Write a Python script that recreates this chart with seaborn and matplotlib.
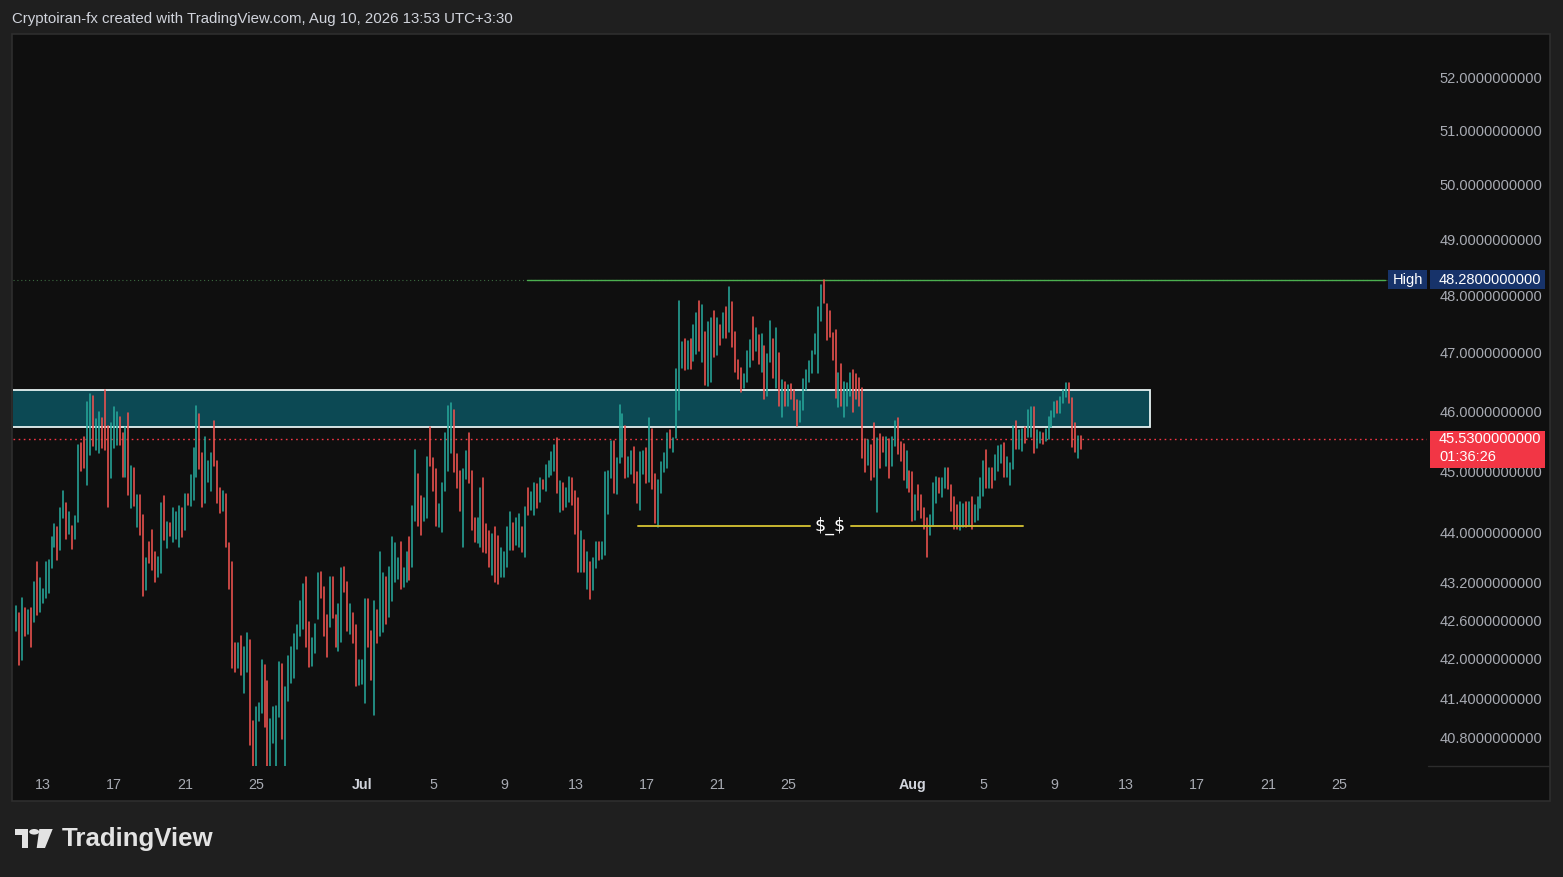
import numpy as np
import pandas as pd
import matplotlib
matplotlib.use("Agg")
import matplotlib.pyplot as plt
import matplotlib.dates as mdates
from matplotlib.patches import Rectangle, Polygon, Circle
from matplotlib.lines import Line2D
from matplotlib.ticker import FixedLocator, FuncFormatter, NullLocator
import seaborn as sns

# ---------------- data (4h OHLC bars, local time UTC+3:30) ----------------
first_bar = "2026-06-11 11:30"

highs = [
    42.82, 42.71, 42.95, 42.79, 42.76, 42.79, 43.20, 43.52, 43.26, 43.09,
    43.52, 43.55, 43.92, 44.13, 44.08, 44.39, 44.68, 44.47, 44.33, 44.11,
    44.26, 45.43, 45.46, 45.56, 46.15, 46.29, 46.26, 45.87, 45.98, 45.88,
    46.36, 45.76, 45.80, 46.07, 45.98, 45.90, 45.63, 45.73, 45.97, 45.08,
    45.05, 44.60, 44.60, 44.28, 43.58, 43.85, 44.03, 43.68, 43.60, 44.47,
    44.59, 44.16, 44.15, 44.39, 44.33, 44.42, 44.39, 44.62, 44.62, 44.93, 45.38,
    46.09, 45.95, 45.30, 45.56, 45.16, 45.30, 45.83, 45.16, 44.73, 44.68,
    44.62, 43.82, 43.52, 42.24, 42.24, 42.35, 42.19, 42.40, 42.29, 41.06,
    41.26, 41.32, 41.99, 41.90, 41.66, 41.09, 41.26, 41.28, 41.95, 41.92,
    41.57, 42.04, 42.18, 42.38, 42.52, 42.90, 43.18, 43.29, 42.57, 42.32,
    42.54, 43.34, 43.36, 43.12, 42.68, 43.29, 43.28, 42.69, 42.85, 43.42,
    43.44, 43.20, 42.85, 42.71, 42.52, 41.98, 41.98, 42.93, 42.93, 42.43, 42.91,
    42.76, 43.69, 43.34, 43.28, 43.45, 43.92, 43.82, 43.58, 43.85, 43.42,
    43.68, 43.92, 44.42, 45.35, 44.96, 44.59, 44.55, 45.23, 45.73, 45.21,
    45.03, 44.46, 44.80, 45.63, 46.09, 46.14, 46.03, 45.28, 45.00, 45.03,
    45.33, 45.63, 45.00, 44.24, 44.23, 44.73, 44.88, 44.13, 44.02, 43.97,
    44.08, 43.94, 43.74, 43.68, 44.08, 44.33, 44.15, 44.24, 44.29, 44.08,
    44.41, 44.72, 44.65, 44.80, 44.78, 44.89, 44.86, 45.10, 45.16, 45.31, 45.43,
    45.55, 44.83, 44.80, 44.72, 44.90, 44.88, 44.68, 44.55, 44.02, 43.87,
    43.69, 43.53, 43.58, 43.84, 43.84, 43.84, 44.98, 45.01, 45.50, 45.50,
    45.21, 46.10, 45.95, 45.75, 45.23, 45.33, 45.40, 44.98, 45.31, 45.33,
    45.38, 45.88, 45.71, 44.96, 44.85, 45.15, 45.30, 45.63, 45.68, 45.55,
    46.72, 47.90, 47.18, 47.23, 47.20, 47.23, 47.49, 47.69, 47.90, 47.83,
    47.36, 47.53, 47.60, 47.72, 47.60, 47.49, 47.69, 47.79, 48.15, 47.88, 47.36,
    46.87, 46.73, 46.63, 47.03, 47.22, 47.62, 47.43, 47.30, 47.32, 47.11,
    46.98, 47.56, 47.23, 47.43, 47.00, 46.53, 46.49, 46.44, 46.46, 46.37,
    46.19, 46.17, 46.55, 46.70, 46.85, 47.03, 47.32, 47.79, 48.18, 48.28,
    47.85, 47.72, 47.34, 47.39, 46.65, 46.80, 46.49, 46.48, 46.65, 46.70,
    46.63, 46.56, 46.39, 45.53, 45.51, 45.43, 45.80, 45.55, 45.61, 45.56,
    45.56, 45.53, 45.56, 45.83, 45.88, 45.48, 45.45, 45.33, 45.00, 44.98, 44.60,
    44.77, 44.60, 44.39, 44.24, 44.28, 44.80, 44.90, 44.88, 44.88, 45.05,
    45.05, 44.77, 44.57, 44.44, 44.50, 44.46, 44.50, 44.50, 44.57, 44.44,
    44.57, 44.88, 45.16, 45.35, 45.05, 45.06, 45.26, 45.41, 45.43, 45.46,
    45.23, 45.13, 45.76, 45.83, 45.68, 45.71, 45.73, 46.03, 46.07, 46.07,
    45.68, 45.66, 45.63, 45.70, 45.90, 46.00, 46.15, 46.17, 46.24, 46.37,
    46.48, 46.48, 46.22, 45.80, 45.58, 45.58,
]

lows = [
    42.44, 41.90, 41.98, 42.35, 42.38, 42.18, 42.57, 42.68, 42.73, 42.87,
    42.95, 43.03, 43.42, 43.76, 43.55, 43.71, 44.23, 43.90, 43.98, 43.73,
    43.89, 44.16, 45.01, 45.06, 44.77, 45.26, 45.41, 45.35, 45.30, 45.38,
    45.35, 44.41, 44.88, 45.38, 45.43, 45.43, 44.90, 44.90, 44.60, 44.39,
    44.42, 44.08, 43.95, 42.99, 43.07, 43.50, 43.39, 43.20, 43.28, 43.34,
    43.87, 43.74, 43.94, 43.84, 43.89, 43.76, 43.92, 44.03, 44.44, 44.42, 44.52,
    44.90, 45.03, 44.41, 44.47, 44.82, 44.68, 45.08, 44.47, 44.31, 44.34,
    43.76, 43.10, 41.86, 41.80, 41.86, 41.75, 41.47, 41.80, 40.69, 40.20,
    40.20, 41.06, 41.17, 40.96, 40.20, 40.20, 40.72, 40.20, 41.11, 40.79,
    40.20, 41.35, 41.63, 41.70, 42.16, 42.35, 42.46, 42.18, 41.87, 41.89,
    42.09, 42.62, 42.95, 42.35, 42.03, 42.49, 42.63, 42.18, 42.12, 42.26,
    43.04, 42.43, 42.38, 42.24, 41.58, 41.60, 41.61, 41.32, 42.18, 41.67, 41.14,
    42.24, 42.35, 42.41, 42.55, 42.65, 42.90, 43.20, 43.25, 43.09, 43.12,
    43.20, 43.23, 43.45, 44.18, 44.10, 43.95, 44.18, 44.24, 45.08, 44.67,
    44.11, 44.08, 44.00, 44.68, 45.01, 45.30, 44.98, 44.73, 44.34, 43.76,
    44.87, 44.80, 44.03, 43.84, 43.82, 43.76, 43.68, 43.66, 43.44, 43.31,
    43.20, 43.18, 43.28, 43.28, 43.44, 43.71, 43.71, 43.79, 43.77, 43.68,
    43.60, 44.28, 44.36, 44.28, 44.39, 44.49, 44.70, 44.68, 44.90, 44.93, 45.01,
    44.64, 44.33, 44.36, 44.41, 44.49, 44.44, 43.98, 43.36, 43.37, 43.37,
    43.09, 42.93, 43.07, 43.42, 43.55, 43.57, 43.63, 44.29, 44.88, 44.64,
    44.62, 45.13, 45.23, 44.88, 44.90, 44.95, 44.80, 44.47, 44.36, 44.96,
    44.80, 44.82, 44.70, 44.15, 44.08, 44.64, 44.98, 45.06, 45.38, 45.31,
    45.55, 46.02, 46.73, 46.70, 46.72, 46.72, 46.85, 46.98, 47.03, 46.84,
    46.44, 46.43, 46.49, 46.92, 46.96, 47.13, 47.25, 47.25, 47.36, 47.10, 46.67,
    46.55, 46.32, 46.39, 46.49, 46.75, 46.87, 47.03, 46.80, 46.67, 46.21,
    46.26, 46.84, 46.56, 46.39, 46.09, 45.91, 46.09, 46.09, 46.21, 46.02,
    45.75, 45.82, 46.02, 46.36, 46.49, 46.65, 46.98, 46.65, 47.56, 47.86,
    47.22, 47.27, 46.87, 46.22, 46.07, 46.09, 45.91, 46.09, 46.26, 45.98,
    46.21, 46.09, 45.21, 44.98, 45.10, 44.86, 44.91, 44.33, 45.06, 45.31,
    45.08, 44.88, 45.08, 45.41, 45.28, 45.16, 44.86, 44.72, 44.65, 44.18, 44.20,
    44.36, 44.23, 44.06, 43.61, 43.95, 44.11, 44.47, 44.64, 44.57, 44.72,
    44.70, 44.34, 44.05, 44.05, 44.03, 44.08, 44.08, 44.10, 44.06, 44.16,
    44.20, 44.39, 44.59, 44.73, 44.73, 44.73, 44.86, 45.01, 45.13, 44.91,
    44.90, 44.77, 45.03, 45.36, 45.36, 45.33, 45.46, 45.56, 45.56, 45.30,
    45.38, 45.46, 45.45, 45.50, 45.53, 45.73, 45.90, 45.97, 45.97, 46.14,
    46.24, 46.14, 45.40, 45.31, 45.21, 45.36,
]

# u = up bar (green), d = down bar (red)
bar_dir = (
    "ududududuu" "uuuuduudud" "uudduuduud" "dduuuddudu" "dudduddduu" "duduuududuu"
    "udduuudddu" "dddduduudd" "uuudduuuud" "uuuuuuuddu" "uuddduddu" "u" "ddudduuuddu"
    "duuduuuudu" "uduudduudd" "duuuuudddu" "uddduudddu" "dduuuuduud" "uduududuuuu"
    "duduudddud" "uduuduuuud" "uuuduudduu" "dudduuuudu" "uuududuudu" "duududududd"
    "dduuududud" "uududududd" "duuuuuuuud" "dddduduuud" "dddduddudd" "uduuddduddu"
    "dddduuuduu" "dddduududu" "uuududuuud" "uuuduuduud" "uuduuuuduu" "udddud"
)

last_price = 45.53
countdown = "01:36:26"
high_level = 48.28
zone_top, zone_bottom = 46.37, 45.73
zone_end = "2026-08-14 08:45"
high_line_span = ("2026-07-10 07:00", "2026-08-27 14:00")
ss_level = 44.10
ss_left = ("2026-07-16 12:00", "2026-07-26 04:30")
ss_right = ("2026-07-28 12:00", "2026-08-07 05:00")
ss_label_time = "2026-07-27 08:00"
ss_label = "$_$"

price_ticks = [52, 51, 50, 49, 48, 47, 46, 45, 44, 43.2, 42.6, 42, 41.4, 40.8]
tick_dates = ["2026-06-13", "2026-06-17", "2026-06-21", "2026-06-25", "2026-07-01",
              "2026-07-05", "2026-07-09", "2026-07-13", "2026-07-17", "2026-07-21",
              "2026-07-25", "2026-08-01", "2026-08-05", "2026-08-09", "2026-08-13",
              "2026-08-17", "2026-08-21", "2026-08-25"]
tick_labels = ["13", "17", "21", "25", "Jul", "5", "9", "13", "17", "21",
               "25", "Aug", "5", "9", "13", "17", "21", "25"]
x_range = ("2026-06-11 07:25", "2026-08-29 23:15")
y_range = (40.38, 52.83)

title = "Cryptoiran-fx created with TradingView.com, Aug 10, 2026 13:53 UTC+3:30"

assert len(highs) == len(lows) == len(bar_dir), (len(highs), len(lows), len(bar_dir))

# ---------------- style ----------------
OUTER = "#1f1f1f"
PANEL = "#0f0f0f"
GREEN = "#26a69a"
RED = "#ef5350"
GRAY = "#a8abb3"

sns.set_theme(style="dark", rc={"axes.facecolor": PANEL, "figure.facecolor": OUTER})
plt.rcParams["font.family"] = ["Liberation Sans", "DejaVu Sans"]

W, H = 1563, 877
fig = plt.figure(figsize=(W / 100, H / 100), dpi=100, facecolor=OUTER)


def fx(px):
    return px / W


def fy(py):
    return 1 - py / H


fig.add_artist(Rectangle((fx(12), fy(801)), fx(1550) - fx(12), fy(34) - fy(801),
                         transform=fig.transFigure, facecolor=PANEL, lw=0, zorder=0))
fig.add_artist(Rectangle((fx(12), fy(801)), fx(1550) - fx(12), fy(34) - fy(801),
                         transform=fig.transFigure, facecolor="none",
                         edgecolor="#2e2e2e", lw=1.2, zorder=10))
ax = fig.add_axes([fx(13), fy(766), fx(1427) - fx(13), fy(34.5) - fy(766)], zorder=1)
ax.set_facecolor(PANEL)

# ---------------- bars ----------------
times = pd.date_range(first_bar, periods=len(highs), freq="4h")
bars = pd.DataFrame({"bar": np.arange(len(highs)), "time": times,
                     "low": lows, "high": highs, "dir": list(bar_dir)})
long = bars.melt(id_vars=["bar", "time", "dir"], value_vars=["low", "high"],
                 value_name="price")
sns.lineplot(data=long, x="time", y="price", units="bar", estimator=None,
             hue="dir", palette={"u": GREEN, "d": RED}, legend=False,
             linewidth=1.15, sort=False, ax=ax, zorder=3)

ax.set_yscale("log")
ax.set_ylim(*y_range)
ax.set_xlim(pd.Timestamp(x_range[0]), pd.Timestamp(x_range[1]))

# zone
x0 = mdates.date2num(pd.Timestamp(x_range[0])) - 2
x1 = mdates.date2num(pd.Timestamp(zone_end))
ax.add_patch(Rectangle((x0, zone_bottom), x1 - x0, zone_top - zone_bottom,
                       facecolor="#0c4954", edgecolor="#e6f2f2", lw=1.3, zorder=2))

# current price dotted line
ax.axhline(last_price, color="#f23645", lw=1.0, ls=(0, (1.2, 2.5)), zorder=2.5)

# High line
ax.axhline(high_level, color="#4f8f55", lw=0.8, ls=(0, (1, 2.5)), alpha=0.7, zorder=2.5)
hl = pd.DataFrame({"time": pd.to_datetime(list(high_line_span)),
                   "price": [high_level, high_level]})
sns.lineplot(data=hl, x="time", y="price", color="#4caf50", lw=1.0, ax=ax, zorder=2.6)

# $_$ level
for seg in (ss_left, ss_right):
    sd = pd.DataFrame({"time": pd.to_datetime(list(seg)), "price": [ss_level, ss_level]})
    sns.lineplot(data=sd, x="time", y="price", color="#c9b730", lw=1.4, ax=ax, zorder=4)
ax.text(mdates.date2num(pd.Timestamp(ss_label_time)), ss_level, ss_label,
        color="white", fontsize=12.5, ha="center", va="center", zorder=5,
        family=["DejaVu Sans"], parse_math=False)

# axes cosmetics
for s in ax.spines.values():
    s.set_visible(False)
ax.set_xlabel("")
ax.set_ylabel("")
ax.grid(False)

ax.yaxis.tick_right()
ax.yaxis.set_major_locator(FixedLocator(price_ticks))
ax.yaxis.set_major_formatter(FuncFormatter(lambda v, p: f"{v:.10f}"))
ax.yaxis.set_minor_locator(NullLocator())
ax.tick_params(axis="y", which="both", length=0, pad=9, labelcolor=GRAY, labelsize=10.5)

ax.set_xticks(mdates.date2num(pd.to_datetime(tick_dates)))
ax.set_xticklabels(tick_labels)
ax.tick_params(axis="x", length=0, pad=8.5, labelcolor=GRAY, labelsize=10.3)
for lab in ax.get_xticklabels():
    if not lab.get_text().isdigit():
        lab.set_fontweight("bold")
        lab.set_color("#d1d4dc")

# separator under price scale
fig.add_artist(Line2D([fx(1428), fx(1549)], [fy(766), fy(766)],
                      transform=fig.transFigure, color="#2c2c2c", lw=1.0, zorder=2))


def price_fy(p):
    disp = ax.transData.transform((mdates.date2num(times[0]), p))
    return fig.transFigure.inverted().transform(disp)[1]


# High labels
yc = price_fy(high_level)
hh = 19 / H
NAVY = "#17336a"
fig.add_artist(Rectangle((fx(1388), yc - hh / 2), fx(1427) - fx(1388), hh,
                         transform=fig.transFigure, facecolor=NAVY, lw=0, zorder=5))
fig.text(fx(1407.5), yc, "High", color="white", fontsize=10.5, ha="center",
         va="center", zorder=6)
fig.add_artist(Rectangle((fx(1430), yc - hh / 2), fx(1545) - fx(1430), hh,
                         transform=fig.transFigure, facecolor=NAVY, lw=0, zorder=5))
fig.text(fx(1439), yc, f"{high_level:.10f}", color="white", fontsize=10.5,
         ha="left", va="center", zorder=6)

# current price label
yc = price_fy(last_price)
fig.add_artist(Rectangle((fx(1430), yc - 29 / H), fx(1545) - fx(1430), 37 / H,
                         transform=fig.transFigure, facecolor="#f23645", lw=0, zorder=5))
fig.text(fx(1439), yc, f"{last_price:.10f}", color="white", fontsize=10.5,
         ha="left", va="center", zorder=6)
fig.text(fx(1439), yc - 18 / H, countdown, color="white", fontsize=10.5,
         ha="left", va="center", zorder=6)

# title
fig.text(fx(12), fy(19), title, color="#d1d4dc", fontsize=10.8, ha="left", va="center")

# TradingView logo
LOGO = "#e3e3e3"
fig.add_artist(Polygon([(fx(15), fy(829)), (fx(27.7), fy(829)), (fx(27.7), fy(848)),
                        (fx(22.3), fy(848)), (fx(22.3), fy(834.5)), (fx(15), fy(834.5))],
                       closed=True, transform=fig.transFigure, facecolor=LOGO, lw=0))
fig.add_artist(Polygon([(fx(39.3), fy(829)), (fx(52.7), fy(829)), (fx(45), fy(848)),
                        (fx(36.7), fy(848))],
                       closed=True, transform=fig.transFigure, facecolor=LOGO, lw=0))
fig.add_artist(Circle((fx(34.2), fy(831.8)), 2.8 / H, transform=fig.transFigure,
                      facecolor=LOGO, lw=0))
fig.text(fx(61.5), fy(839), "TradingView", color=LOGO, fontsize=18.6,
         fontweight="bold", ha="left", va="center")

fig.savefig("out.png", dpi=100, facecolor=OUTER)
